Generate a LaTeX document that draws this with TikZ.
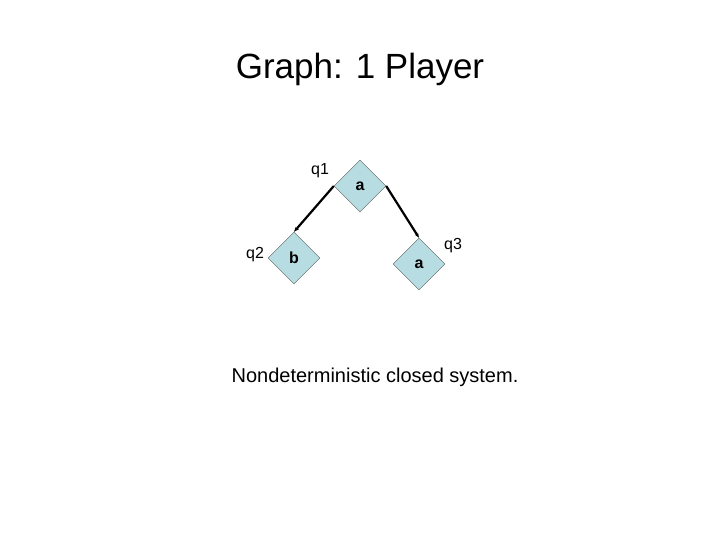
\documentclass[tikz,border=0pt]{standalone}
\usepackage{fontspec}
\setmainfont{Liberation Sans}
\usetikzlibrary{shapes.geometric,arrows.meta}
\definecolor{statefill}{RGB}{183,221,226}
\begin{document}
\begin{tikzpicture}[x=1pt,y=-1pt,
        state/.style={diamond,draw=gray!70!black,fill=statefill,minimum
        width=52pt,minimum height=52pt,inner sep=0pt,font=\fontsize{16}{18}\selectfont\bfseries},
        lbl/.style={font=\fontsize{16}{18}\selectfont}]
        \useasboundingbox (0,0) rectangle (720,540);

        \node[font=\fontsize{35}{40}\selectfont] (T) at (360,69) {Graph: 1 Player};

        \node[state] (Q1) at (360,186) {a};
        \node[state] (Q2) at (294,258) {b};
        \node[state] (Q3) at (419,264) {a};

        \node[lbl] (L1) at (320,171) {q1};
        \node[lbl] (L2) at (255,255) {q2};
        \node[lbl] (L3) at (453,246) {q3};

        \draw[line width=2.2pt,-{Stealth[length=5pt]}] (Q1.west) -- (Q2.north);
        \draw[line width=2.2pt,-{Stealth[length=5pt]}] (Q1.east) -- (Q3.north);

        \node[font=\fontsize{20}{24}\selectfont] (S) at (375,377) {Nondeterministic closed system.};
\end{tikzpicture}
\end{document}
